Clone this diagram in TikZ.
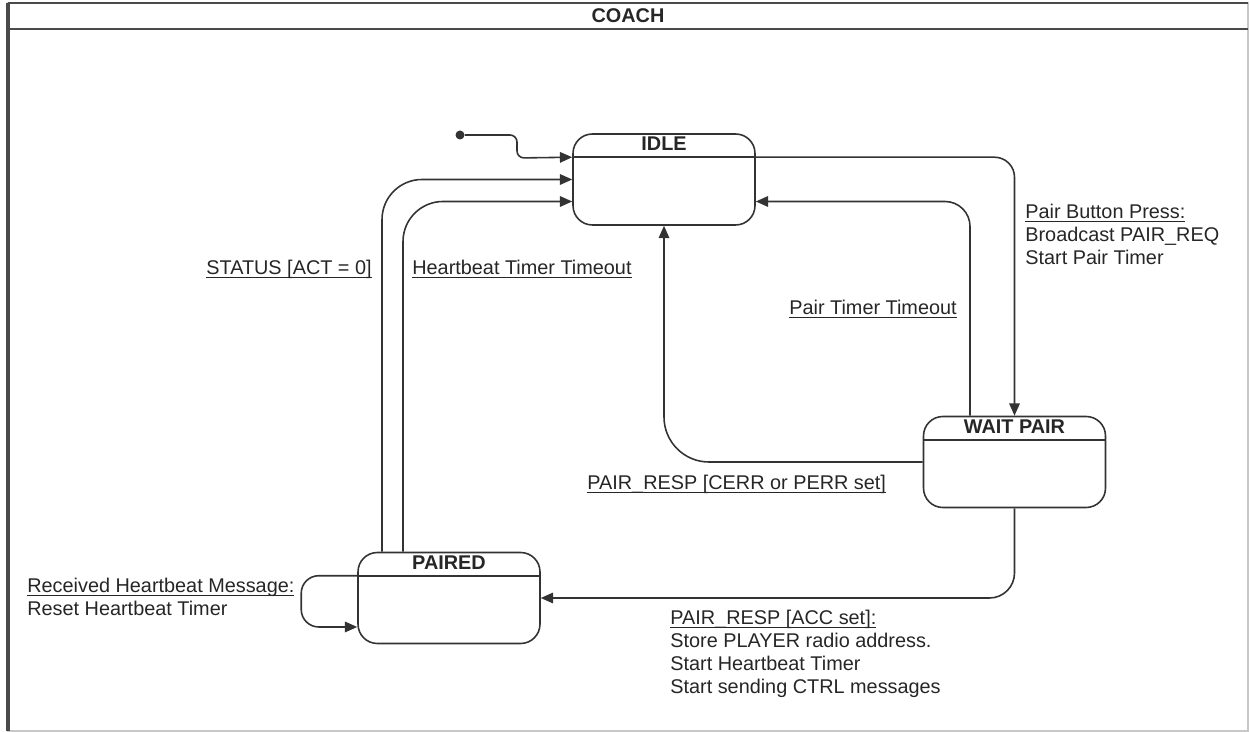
\documentclass[tikz,border=0pt]{standalone}
\usepackage{fontspec}
\setmainfont{Liberation Sans}
\usetikzlibrary{arrows.meta, positioning}
\definecolor{FrameDark}{HTML}{4A4A4A}
\definecolor{FrameLight}{HTML}{C8C8C8}
\definecolor{LineGray}{HTML}{333333}
% underlined trigger text, line close to the baseline
\newcommand{\trigger}[1]{\underline{\raisebox{0pt}[\height][0pt]{#1}}}

\begin{document}
\begin{tikzpicture}[x=0.02cm, y=-0.02cm,
  font=\fontsize{11.3}{13}\selectfont,
  statebox/.style={draw=LineGray, line width=0.9pt, rounded corners=11pt, minimum width=3.64cm, minimum height=1.82cm},
  statetitle/.style={font=\fontsize{11.3}{13}\selectfont\bfseries, inner sep=0pt, text=black!85},
  trans/.style={draw=LineGray, line width=0.9pt, -{Triangle[length=7pt,width=6pt]}},
  translabel/.style={inner sep=0pt, align=left, text=black!85},
]
\useasboundingbox (0,0) rectangle (1250,732);

% --- frame with header ---
\draw[FrameLight, line width=0.6pt] (8,3) rectangle (1248,731);
\draw[FrameDark, line width=1.3pt] (8,3) -- (1248,3);
\draw[FrameDark, line width=1.3pt] (8,29) -- (1248,29);
\draw[FrameDark, line width=1.8pt] (8,3) -- (8,731);
\node[statetitle] (coach) at (628,16) {COACH};

% --- states ---
\node[statebox] (idle) at (664,179.5) {};
\node[statebox] (wait) at (1014.5,462) {};
\node[statebox] (paired) at (449,598) {};
\foreach \st/\ttl in {idle/IDLE, wait/WAIT PAIR, paired/PAIRED} {
  \coordinate (\st-hw) at ([yshift=-0.48cm]\st.north west);
  \coordinate (\st-he) at ([yshift=-0.48cm]\st.north east);
  \draw[LineGray, line width=0.9pt] (\st-hw) -- (\st-he);
  \node[statetitle] (\st-title) at ([yshift=-0.21cm]\st.north) {\ttl};
}

% --- transitions ---
\node[circle, fill=LineGray, inner sep=0pt, minimum size=0.18cm] (init) at (460,135) {};
\draw[trans, rounded corners=4pt] (init) -| (517,158) -- (idle-hw);
\draw[trans, rounded corners=0.8cm] ([xshift=-1.34cm]paired.north) |- (idle.west);
\draw[trans, rounded corners=0.8cm] ([xshift=-0.92cm]paired.north) |- ([yshift=-0.44cm]idle.west);
\draw[trans, rounded corners=0.5cm] ([xshift=-0.89cm]wait.north) |- ([yshift=-0.44cm]idle.east);
\draw[trans, rounded corners=0.4cm] (idle-he) -| (wait.north);
\draw[trans, rounded corners=0.9cm] (wait.west) -| (idle.south);
\draw[trans, rounded corners=0.5cm] (wait.south) |- (paired.east);
\draw[trans, rounded corners=0.35cm] (paired-hw) -- ++(-56,0) |- ([yshift=-0.58cm]paired.west);

% --- labels ---
\node[translabel, anchor=base east] (lblStatus) at (372,275) {\trigger{STATUS [ACT = 0]}};
\node[translabel, anchor=base west] (lblHbTimeout) at (412,275) {\trigger{Heartbeat Timer Timeout}};
\node[translabel, anchor=base west] (lblPairTimeout) at (789,315) {\trigger{Pair Timer Timeout}};
\node[translabel, anchor=base west] (lblPairErr) at (587,490) {\trigger{PAIR\_RESP [CERR or PERR set]}};
\node[translabel, anchor=north west] (lblPairBtn) at (1025,204) {\trigger{Pair Button Press:}\\Broadcast PAIR\_REQ\\Start Pair Timer};
\node[translabel, anchor=north west] (lblPairAcc) at (670,610) {\trigger{PAIR\_RESP [ACC set]:}\\Store PLAYER radio address.\\Start Heartbeat Timer\\Start sending CTRL messages};
\node[translabel, anchor=north west] (lblHbMsg) at (27,578) {\trigger{Received Heartbeat Message:}\\Reset Heartbeat Timer};

\end{tikzpicture}
\end{document}
